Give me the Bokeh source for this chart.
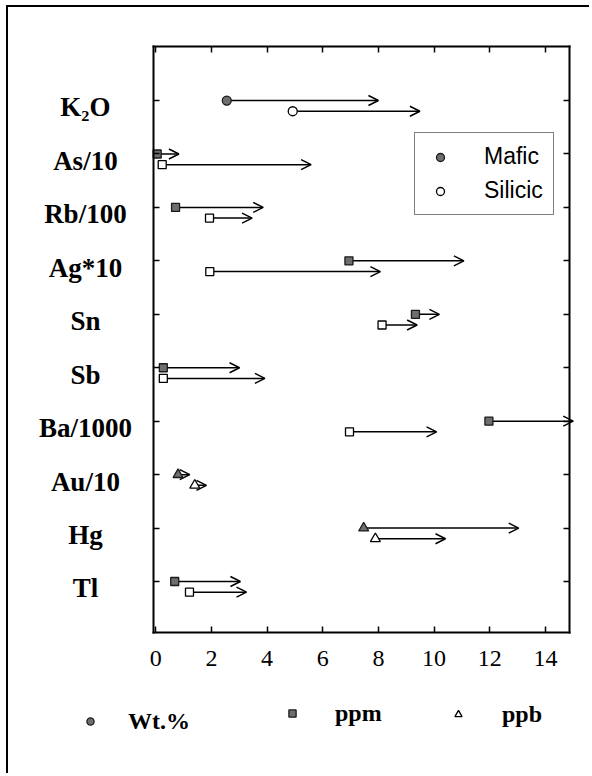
from bokeh.plotting import figure
from bokeh.models import (ColumnDataSource, Arrow, OpenHead, LinearAxis, FixedTicker,
                          Legend, LegendItem, LabelSet, Range1d)
from bokeh.embed import file_html
from bokeh.resources import INLINE
from bokeh.core.properties import value

# ---------------- data ----------------
elements = ["K\u2082O", "As/10", "Rb/100", "Ag*10", "Sn", "Sb", "Ba/1000", "Au/10", "Hg", "Tl"]
units = ["Wt.%", "ppm", "ppm", "ppm", "ppm", "ppm", "ppm", "ppb", "ppb", "ppm"]
mafic_from = [2.55, 0.05, 0.71, 6.94, 9.33, 0.27, 11.97, 0.80, 7.47, 0.68]
mafic_to = [8.00, 0.83, 3.86, 11.07, 10.19, 3.01, 15.00, 1.22, 13.04, 3.04]
silicic_from = [4.92, 0.23, 1.93, 1.94, 8.13, 0.27, 6.96, 1.40, 7.89, 1.21]
silicic_to = [9.49, 5.58, 3.46, 8.07, 9.39, 3.92, 10.09, 1.82, 10.41, 3.26]
x_ticks = [0, 2, 4, 6, 8, 10, 12, 14]
unit_names = ["Wt.%", "ppm", "ppb"]
group_names = ["Mafic", "Silicic"]

rows = list(range(len(elements), 0, -1))      # K2O at top
SIL_OFF = 0.2
LABEL_OFF = 0.13

SERIF = "Liberation Serif"
SANS = "Liberation Sans"

# ---------------- geometry (the frame covers the whole canvas) ----------------
W, H = 583, 768
X_RANGE = (-5.293, 15.656)
Y_RANGE = (-2.630, 11.741)
BOX_X = (-0.065, 14.883)     # the drawn plot box, in data units
BOX_Y = (0.046, 11.002)
LABEL_X = -2.53

p = figure(width=W, height=H,
           x_range=Range1d(*X_RANGE), y_range=Range1d(*Y_RANGE),
           output_backend="svg", toolbar_location=None,
           x_axis_location=None, y_axis_location=None,
           min_border=0, min_border_left=0, min_border_right=0,
           min_border_top=0, min_border_bottom=0)
p.xgrid.visible = False
p.ygrid.visible = False
p.outline_line_color = None
p.background_fill_color = "white"
p.border_fill_color = "white"
p.margin = (5, 0, 0, 6)
p.styles = {"border-top": "2px solid black", "border-left": "2px solid black"}


def make_axis(ticks, loc, bounds, show_labels=False):
    ax = LinearAxis(ticker=FixedTicker(ticks=ticks), fixed_location=loc, bounds=bounds)
    ax.axis_line_width = 2
    ax.axis_line_color = "black"
    ax.axis_line_cap = "square"
    ax.major_tick_in = 6
    ax.major_tick_out = 0
    ax.major_tick_line_width = 1.5
    ax.minor_tick_line_color = None
    if show_labels:
        ax.major_label_text_font = SERIF
        ax.major_label_text_font_size = "24px"
        ax.major_label_text_color = "black"
        ax.major_label_standoff = 19
    else:
        ax.major_label_overrides = {t: "" for t in ticks}
        ax.major_label_standoff = 0
    return ax


p.add_layout(make_axis(x_ticks, BOX_Y[0], BOX_X, show_labels=True), "below")
p.add_layout(make_axis(x_ticks, BOX_Y[1], BOX_X), "above")
p.add_layout(make_axis(rows, BOX_X[0], BOX_Y), "left")
p.add_layout(make_axis(rows, BOX_X[1], BOX_Y), "right")

# ---------------- arrows ----------------
sil_rows = [r - SIL_OFF for r in rows]
arrow_src = ColumnDataSource(dict(
    x0=mafic_from + silicic_from, y0=rows + sil_rows,
    x1=mafic_to + silicic_to, y1=rows + sil_rows))
p.add_layout(Arrow(end=OpenHead(size=10, line_width=1.5, line_color="black"),
                   x_start="x0", y_start="y0", x_end="x1", y_end="y1",
                   source=arrow_src, line_width=1.5, line_color="black",
                   level="underlay"))

# ---------------- markers ----------------
marker_of = {"Wt.%": "circle", "ppm": "square", "ppb": "triangle"}
size_of = {"Wt.%": 9, "ppm": 8, "ppb": 10}
renderers = {}
for group, xs, ys in (("Mafic", mafic_from, rows), ("Silicic", silicic_from, sil_rows)):
    for u in unit_names:
        idx = [i for i, uu in enumerate(units) if uu == u]
        src = ColumnDataSource(dict(x=[xs[i] for i in idx], y=[ys[i] for i in idx]))
        if group == "Mafic":
            fill, line = "#6e6e6e", "#1a1a1a"
        else:
            fill, line = "white", "black"
        renderers[(group, u)] = p.scatter("x", "y", source=src, marker=marker_of[u],
                                          size=size_of[u], fill_color=fill,
                                          line_color=line, line_width=1.3)

# ---------------- category labels ----------------
lab_src = ColumnDataSource(dict(x=[LABEL_X] * len(elements),
                                y=[r - LABEL_OFF for r in rows], text=elements))
p.add_layout(LabelSet(x="x", y="y", text="text", source=lab_src,
                      text_align="center", text_baseline="middle",
                      text_font=value(SERIF), text_font_style="bold",
                      text_font_size="27px", text_color="black"))

# ---------------- legends ----------------
leg = Legend(items=[LegendItem(label=group_names[0], renderers=[renderers[("Mafic", "Wt.%")]]),
                    LegendItem(label=group_names[1], renderers=[renderers[("Silicic", "Wt.%")]])],
             location=(406, 560), glyph_width=30, glyph_height=20, label_standoff=29,
             padding=10, spacing=7, margin=0,
             border_line_color="black", border_line_width=1.5,
             background_fill_color="white", background_fill_alpha=1,
             label_text_font=SANS, label_text_font_size="23px",
             label_text_color="black")
p.add_layout(leg)

bottom_specs = [
    (unit_names[0], renderers[("Mafic", "Wt.%")], (73, 39), 29),
    (unit_names[1], renderers[("Mafic", "ppm")], (275, 47), 34),
    (unit_names[2], renderers[("Silicic", "ppb")], (441, 46), 35),
]
for name, rend, loc, standoff in bottom_specs:
    lg = Legend(items=[LegendItem(label=name, renderers=[rend])],
                location=loc, glyph_width=18, glyph_height=30, label_standoff=standoff,
                padding=0, margin=0, border_line_color=None, background_fill_alpha=0,
                label_text_font=SERIF, label_text_font_style="bold",
                label_text_font_size="24px", label_text_color="black")
    p.add_layout(lg)

open("out.html", "w").write(file_html(p, INLINE))
